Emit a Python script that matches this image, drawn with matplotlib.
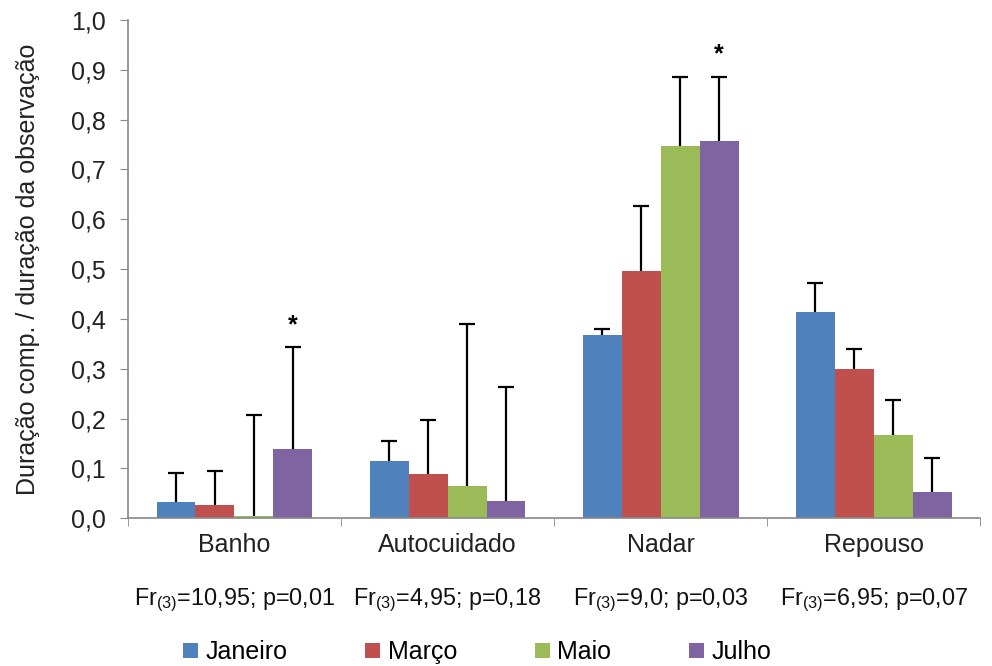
import numpy as np
import matplotlib.pyplot as plt

plt.rcParams['font.family'] = ['Liberation Sans', 'DejaVu Sans']
plt.rcParams['mathtext.fontset'] = 'custom'
plt.rcParams['mathtext.rm'] = 'Liberation Sans'

categorias = ['Banho', 'Autocuidado', 'Nadar', 'Repouso']
meses = ['Janeiro', 'Março', 'Maio', 'Julho']
cores = ['#4f81bd', '#c0504d', '#9bbb59', '#8064a2']

# mean duration per month (rows) and category (columns)
medias = [
    [0.032, 0.114, 0.367, 0.414],  # Janeiro
    [0.026, 0.088, 0.496, 0.299],  # Março
    [0.005, 0.064, 0.747, 0.167],  # Maio
    [0.139, 0.034, 0.757, 0.052],  # Julho
]
# upper error (standard deviation)
erros = [
    [0.058, 0.041, 0.013, 0.058],
    [0.068, 0.109, 0.131, 0.040],
    [0.202, 0.326, 0.139, 0.070],
    [0.204, 0.229, 0.129, 0.068],
]
estatisticas = ['Fr$_{(3)}$=10,95; p=0,01', 'Fr$_{(3)}$=4,95; p=0,18',
                'Fr$_{(3)}$=9,0; p=0,03', 'Fr$_{(3)}$=6,95; p=0,07']
# stars above Julho bars (category index)
significativos = [0, 2]

fig = plt.figure(figsize=(9.92, 6.66), dpi=100)
ax = fig.add_axes([0.129, 0.222, 0.859, 0.748])

x = np.arange(len(categorias))
w = 0.183
for i, mes in enumerate(meses):
    pos = x + (i - 1.5) * w
    ax.bar(pos, medias[i], w, color=cores[i], label=mes, zorder=2)
    eb = ax.errorbar(pos, medias[i], yerr=[np.zeros(4), erros[i]], fmt='none',
                     ecolor='black', elinewidth=1.6, capsize=6, capthick=1.6, zorder=3)
    eb[1][0].set_visible(False)  # hide lower cap

for c in significativos:
    xj = x[c] + 1.5 * w
    top = medias[3][c] + erros[3][c]
    ax.text(xj, top + 0.02, '*', ha='center', va='bottom', fontsize=18, fontweight='bold')

ax.set_xlim(-0.5, 3.5)
ax.set_ylim(0, 1.0)
ax.set_yticks(np.arange(0, 1.01, 0.1))
ax.set_yticklabels([f'{v:.1f}'.replace('.', ',') for v in np.arange(0, 1.01, 0.1)])
ax.set_xticks(x)
ax.set_xticklabels(categorias)
ax.set_xticks(np.arange(-0.5, 3.6, 1), minor=True)
ax.tick_params(axis='x', which='major', length=0, pad=11, labelsize=18, labelcolor='#222222')
ax.tick_params(axis='x', which='minor', length=6, color='#888888')
ax.tick_params(axis='y', length=6, color='#888888', labelsize=18, pad=10, labelcolor='#222222')

for s in ['top', 'right']:
    ax.spines[s].set_visible(False)
for s in ['left', 'bottom']:
    ax.spines[s].set_color('#888888')
    ax.spines[s].set_linewidth(1.2)

ax.set_ylabel('Duração comp. / duração da observação', fontsize=18, labelpad=22, color='#222222')

for c, txt in enumerate(estatisticas):
    ax.text(x[c], -0.165, txt, ha='center', va='center', fontsize=16.8, color='#111111',
            transform=ax.get_xaxis_transform())

ax.legend(loc='upper center', bbox_to_anchor=(0.41, -0.2), ncol=4, frameon=False,
          fontsize=18, handlelength=0.6, handleheight=0.6, handletextpad=0.3,
          columnspacing=3.1)

fig.savefig('out.png', dpi=100)
